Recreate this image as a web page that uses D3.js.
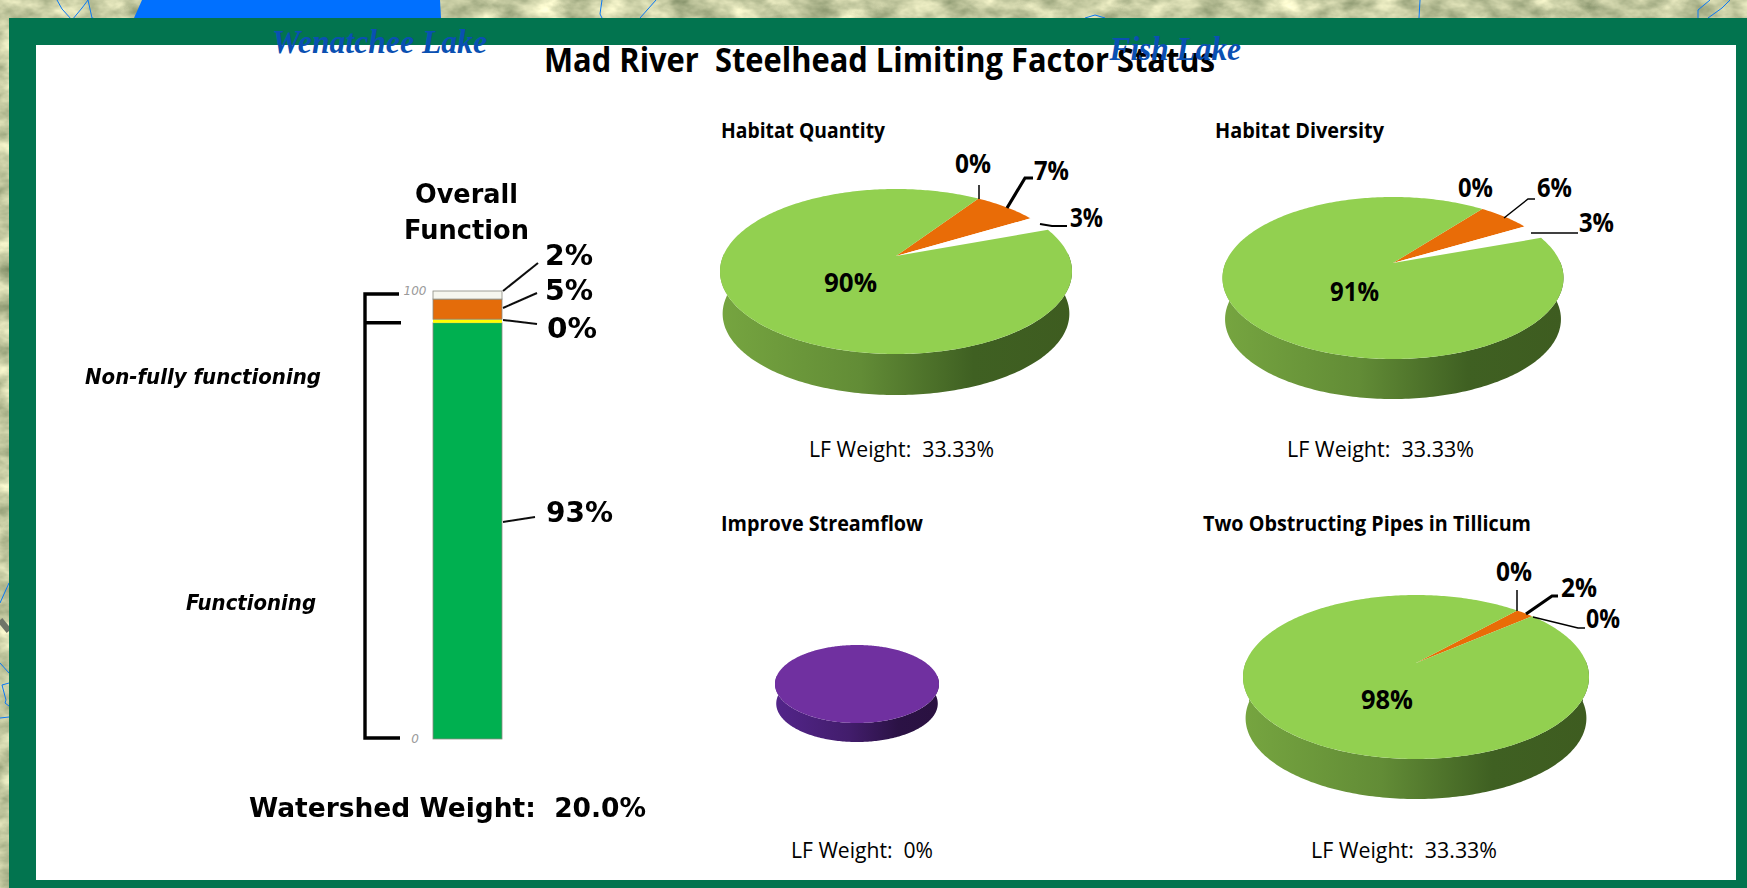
<!DOCTYPE html>
<html><head><meta charset="utf-8">
<script src="https://cdnjs.cloudflare.com/ajax/libs/d3/7.8.5/d3.min.js"></script>
<style>html,body{margin:0;padding:0;background:#fff;overflow:hidden}svg{display:block}text{white-space:pre}</style>
</head><body><svg id="c" width="1747" height="888"></svg>
<script>
// ---- data ----
const overallCategories = ["Functioning","At risk","Non-functioning","Unknown"];
const overallValues = [92.9,0.8,4.5,1.8];
const overallLabels = ["93%","0%","5%","2%"];
const overallTicks = [0,100];
const sliceCategories = ["At risk","Non-functioning","Unknown","Functioning"];
const habitatQuantity = [0,7,3,90];
const habitatDiversity = [0,6,3,91];
const improveStreamflow = [100];
const obstructingPipes = [0,2,0,98];
const panelTitles = ["Habitat Quantity","Habitat Diversity","Improve Streamflow","Two Obstructing Pipes in Tillicum"];
const lfWeights = ["LF Weight:  33.33%","LF Weight:  33.33%","LF Weight:  0%","LF Weight:  33.33%"];

const svg = d3.select("#c");
const defs = svg.append("defs");
const SANS = "'Open Sans','Noto Sans',sans-serif";
const VERD = "'DejaVu Sans',sans-serif";

function txt(s,x,y,size,w,o={}){
  const t = svg.append("text").attr("x",x).attr("y",y).attr("font-size",size)
    .attr("font-family",o.font||SANS).attr("font-weight",o.weight||"normal")
    .attr("font-style",o.style||"normal").attr("fill",o.fill||"#000").text(s);
  if(w) t.attr("textLength",w).attr("lengthAdjust","spacingAndGlyphs");
  return t;
}

// ---- map background ----
const tex = defs.append("filter").attr("id","tex").attr("x",0).attr("y",0).attr("width","100%").attr("height","100%").attr("color-interpolation-filters","sRGB");
tex.append("feTurbulence").attr("type","fractalNoise").attr("baseFrequency","0.03 0.05").attr("numOctaves",4).attr("seed",7);
tex.append("feColorMatrix").attr("type","matrix").attr("values","0.7 0 0 0 0.42  0.62 0 0 0 0.48  0.6 0 0 0 0.33  0 0 0 0 1");
svg.append("rect").attr("width",1747).attr("height",888).attr("filter","url(#tex)");
svg.append("path").attr("d","M134,18 L142,0 H440 L441,18 Z").attr("fill","#0070ff");
const river = ["M57,0 L62,9 L72,20 L82,8 L88,0 M88,0 L92,18 L108,22","M602,0 L600,14 L602,18","M656,0 L640,18","M1419,18 L1420,0","M1698,18 L1698,10 L1710,0","M1708,18 L1722,8 L1730,0","M1085,18 L1095,15 L1105,18","M0,603 L9,583","M0,663 L9,673 M9,683 L2,685 L6,700 L5,703 L9,706 M0,718 L9,717"];
svg.selectAll("path.r").data(river).enter().append("path").attr("class","r").attr("d",d=>d).attr("fill","none").attr("stroke","#0a78f5").attr("stroke-width",1);
svg.append("path").attr("d","M0,620 L9,631").attr("stroke","#6f7468").attr("stroke-width",6);

// ---- frame ----
svg.append("rect").attr("x",9).attr("y",18).attr("width",1738).attr("height",870).attr("fill","#02744f");
svg.append("rect").attr("x",36).attr("y",45).attr("width",1700).attr("height",835).attr("fill","#fff");

// ---- title ----
txt("Mad River  Steelhead Limiting Factor Status",544,72,34,671,{weight:700});

// ---- overall bar ----
const soft = defs.append("filter").attr("id","soft").attr("x","-10%").attr("y","-10%").attr("width","120%").attr("height","120%");
soft.append("feGaussianBlur").attr("stdDeviation",0.55);
const soft2 = defs.append("filter").attr("id","soft2").attr("x","-10%").attr("y","-10%").attr("width","120%").attr("height","120%");
soft2.append("feGaussianBlur").attr("stdDeviation",0.35);
const yBar = d3.scaleLinear().domain([0,100]).range([739,291]);
const barColors = ["#00b050","#ffff00","#e46c0a","#f6f6ee"];
let acc=0;
const stacked = overallValues.map(v=>{const r={y0:acc,y1:acc+v};acc+=v;return r;});
const barX=433, barW=69;
svg.selectAll("rect.seg").data(stacked).enter().append("rect").attr("class","seg")
  .attr("x",barX).attr("width",barW).attr("y",d=>yBar(d.y1)).attr("height",d=>yBar(d.y0)-yBar(d.y1))
  .attr("fill",(d,i)=>barColors[i]).attr("stroke","#8a8a80").attr("stroke-width",0.8);
svg.selectAll("rect.seg").filter((d,i)=>i===1).attr("stroke","none");

const axisG = svg.append("g").attr("transform","translate(426,0)")
  .call(d3.axisLeft(yBar).tickValues(overallTicks).tickSize(0).tickFormat(d=>d));
axisG.select(".domain").remove();
axisG.selectAll("text").attr("x",-11).attr("text-anchor","middle").attr("font-size",12).attr("font-style","italic")
  .attr("font-family",VERD).attr("fill","#9a9a9a");

const greenTop = yBar(overallValues[0]);
const br = svg.append("g").attr("filter","url(#soft)").attr("stroke","#000").attr("fill","none");
br.append("path").attr("d",`M399,${yBar(100)+3} H365 V${yBar(0)-1} H400`).attr("stroke-width",3.4);
br.append("path").attr("d",`M365,${greenTop} H401`).attr("stroke-width",3.6);

const barLeaders=[[[503,522],[535,517]],[[503,320],[537,324]],[[503,308],[537,293]],[[503,291],[538,263]]];
const barLabelPos=[[546,522,67],[547,338,50],[545,300,48],[545,265,48]];
const ln=d3.line();
svg.selectAll("path.bl").data(barLeaders).enter().append("path").attr("class","bl").attr("d",ln)
  .attr("stroke","#111").attr("stroke-width",2).attr("fill","none").attr("filter","url(#soft)");
overallLabels.forEach((s,i)=>txt(s,barLabelPos[i][0],barLabelPos[i][1],28,barLabelPos[i][2],{font:VERD,weight:700}).attr("filter","url(#soft2)"));

txt("Overall",415,203,27,103,{font:VERD,weight:700}).attr("filter","url(#soft2)");
txt("Function",404,239,27,125,{font:VERD,weight:700}).attr("filter","url(#soft2)");
txt("Non-fully functioning",85,384,21,236,{font:VERD,weight:700,style:"italic"}).attr("filter","url(#soft2)");
txt("Functioning",186,610,21,130,{font:VERD,weight:700,style:"italic"}).attr("filter","url(#soft2)");
txt("Watershed Weight:  20.0%",249,817,27,397,{font:VERD,weight:700}).attr("filter","url(#soft2)");

// ---- perspective pies ----
const sliceColors=["#ffff00","#e96c07","#ffffff","#92d050"];
function gradient(id,stops){
  const g=defs.append("linearGradient").attr("id",id);
  stops.forEach(s=>g.append("stop").attr("offset",s[0]).attr("stop-color",s[1]));
}
gradient("wallGreen",[[0,"#76a540"],[0.4,"#628c36"],[0.72,"#3f6022"],[1,"#3e5c20"]]);
gradient("wallPurple",[[0,"#53258a"],[0.45,"#421d6c"],[0.75,"#2b1245"],[1,"#2a1140"]]);

function drawPie(values,p){
  const k=(p.b-p.a)/(p.b+p.a), S=p.a*(1+k), R=p.rx*Math.sqrt(1-k*k);
  // disc angle (clockwise from the back of the disc) to screen position
  const proj=(th,scale=1,dy=0)=>{
    const u=Math.sin(th), v=Math.cos(th), w=1+k*v;
    return [p.cx+scale*R*u/w, p.ay+dy-scale*S*v/w];
  };
  const arcPts=(a0,a1,scale,dy)=>{
    const n=Math.max(2,Math.ceil(Math.abs(a1-a0)/(Math.PI/180)));
    return d3.range(n+1).map(i=>proj(a0+(a1-a0)*i/n,scale,dy));
  };
  const s=0.985, dz=p.depth+p.b*(1-s), rad=Math.PI/180;
  const wall=arcPts(88*rad,272*rad,1,0).concat(arcPts(272*rad,88*rad,s,dz));
  svg.append("path").attr("d",d3.line()(wall)+"Z").attr("fill",`url(#${p.wall})`);
  const pie=d3.pie().sort(null).startAngle(p.start*rad).endAngle(p.start*rad+2*Math.PI);
  const g=svg.append("g");
  g.selectAll("path").data(pie(values)).enter().append("path")
    .attr("d",d=>d.endAngle===d.startAngle?null:d3.line()([[p.cx,p.ay]].concat(arcPts(d.startAngle,d.endAngle,1,0)))+"Z")
    .attr("fill",(d,i)=>p.colors[i]);
}
const pieLayouts=[
 {cx:896,ay:256,a:67,b:98,rx:176,depth:41,start:33.5,wall:"wallGreen",colors:sliceColors},
 {cx:1393,ay:263,a:66,b:96,rx:170.5,depth:40,start:37.6,wall:"wallGreen",colors:sliceColors},
 {cx:857,ay:677,a:32,b:46,rx:82,depth:19,start:0,wall:"wallPurple",colors:["#7030a0"]},
 {cx:1416,ay:663,a:68,b:96,rx:173,depth:40,start:42,wall:"wallGreen",colors:sliceColors}
];
[habitatQuantity,habitatDiversity,improveStreamflow,obstructingPipes].forEach((v,i)=>drawPie(v,pieLayouts[i]));

// pie leaders
const pieLeaders=[
 [[[979,185],[979,199]],1.5],[[[1033,178],[1025,178],[1007,208]],3.2],[[[1067,226],[1052,226],[1040,224]],2.2],
 [[[1535,199],[1528,199],[1504,218]],1.5],[[[1578,233],[1531,233]],1.5],
 [[[1517,590],[1517,611]],1.5],[[[1558,596],[1552,596],[1526,614]],3.2],[[[1585,628],[1578,628],[1533,617]],1.5]
];
svg.selectAll("path.pl").data(pieLeaders).enter().append("path").attr("class","pl")
  .attr("d",d=>ln(d[0])).attr("fill","none").attr("stroke","#000").attr("stroke-width",d=>d[1]);

// pie labels: [slice index, x, baseline, width]
const pieLabelPos=[
 [habitatQuantity,[[0,955,173,36],[1,1034,180,35],[2,1070,227,33],[3,824,292,53]]],
 [habitatDiversity,[[0,1458,197,35],[1,1537,197,35],[2,1579,232,35],[3,1330,301,49]]],
 [obstructingPipes,[[0,1496,581,36],[1,1561,597,36],[2,1586,628,34],[3,1361,709,52]]]
];
pieLabelPos.forEach(([vals,pos])=>pos.forEach(q=>txt(vals[q[0]]+"%",q[1],q[2],26,q[3],{weight:700})));

// panel titles and LF weights
const titlePos=[[721,138,164],[1215,138,169],[721,531,202],[1203,531,328]];
panelTitles.forEach((s,i)=>txt(s,titlePos[i][0],titlePos[i][1],21,titlePos[i][2],{weight:700}));
const lfPos=[[809,457,185],[1287,457,187],[791,858,142],[1311,858,186]];
lfWeights.forEach((s,i)=>txt(s,lfPos[i][0],lfPos[i][1],21,lfPos[i][2]));

// ---- lake names from the underlying map ----
txt("Wenatchee Lake",272,53,33,215,{font:"'Liberation Serif',serif",weight:700,style:"italic",fill:"#0a50b2"});
txt("Fish Lake",1109.5,60,33,131.5,{font:"'Liberation Serif',serif",weight:700,style:"italic",fill:"#0a50b2"});
</script></body></html>
